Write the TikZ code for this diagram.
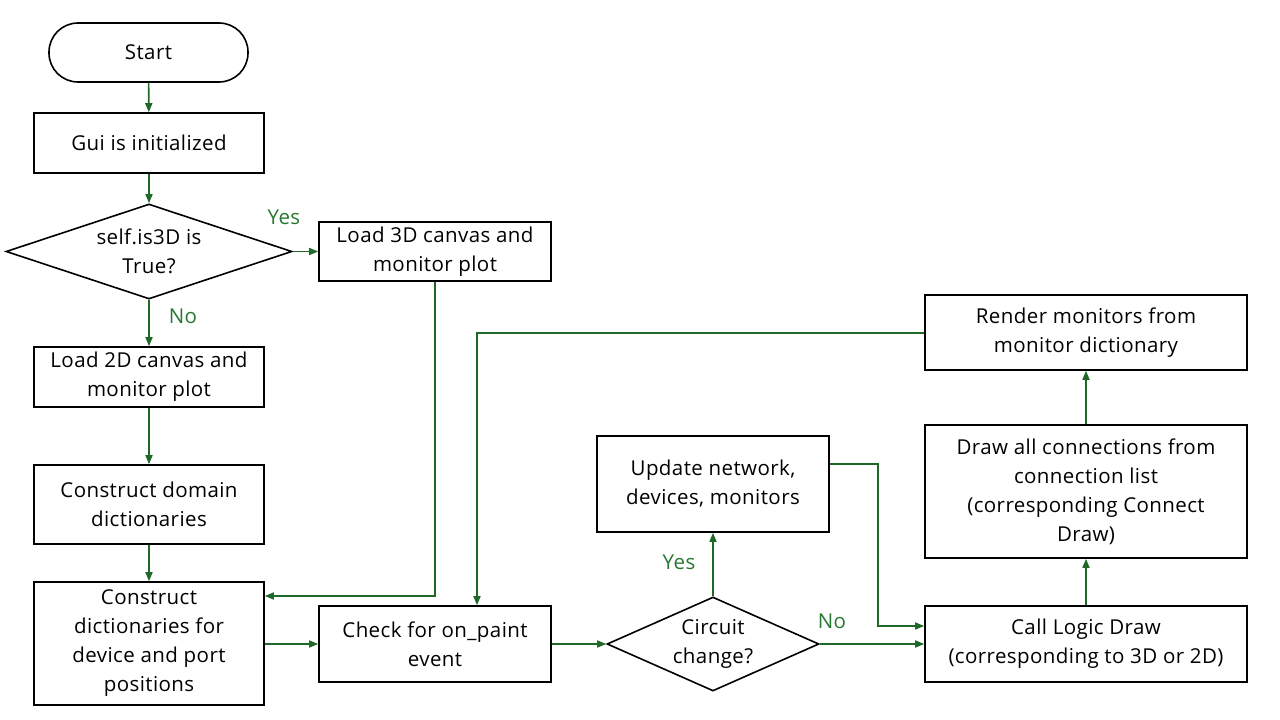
\documentclass[tikz,border=0pt]{standalone}
\usepackage{fontspec}
\setmainfont[LetterSpace=2.0]{Open Sans}
\usetikzlibrary{shapes.geometric,arrows.meta}
\definecolor{arrgreen}{RGB}{30,105,40}
\definecolor{lblgreen}{RGB}{40,120,50}
\tikzset{
  txt/.style={font=\fontsize{20.5}{29}\selectfont,align=center},
  box/.style={draw=black,line width=1.6pt,rectangle,inner sep=1pt,txt},
  dec/.style={draw=black,line width=1.6pt,diamond,inner sep=0pt},
  conn/.style={draw=arrgreen,line width=1.6pt,-{Triangle[length=9pt,width=7pt]}},
  lbl/.style={text=lblgreen,font=\fontsize{20.5}{24}\selectfont,inner sep=0pt},
}
\begin{document}
\begin{tikzpicture}[x=1pt,y=-1pt]
\useasboundingbox (0,0) rectangle (1280,720);
\node[box,rounded corners=29pt,minimum width=199pt,minimum height=59pt] (start) at (148.5,52.5) {Start};
\node[box,minimum width=230pt,minimum height=60pt] (gui) at (149,143) {Gui is initialized};
\node[dec,minimum width=286pt,minimum height=95pt] (is3d) at (149,251.5) {};
\node[txt] (is3dt) at (is3d) {self.is3D is\\True?};
\node[box,minimum width=232pt,minimum height=59pt] (load3d) at (435,251.5) {Load 3D canvas and\\monitor plot};
\node[box,minimum width=230pt,minimum height=60pt] (load2d) at (149,377) {Load 2D canvas and\\monitor plot};
\node[box,minimum width=230pt,minimum height=79pt] (cdom) at (149,504.5) {Construct domain\\dictionaries};
\node[box,minimum width=230pt,minimum height=123pt] (cdev) at (149,643.5) {Construct\\dictionaries for\\device and port\\positions};
\node[box,minimum width=232pt,minimum height=76pt] (check) at (435,644) {Check for on\_paint\\event};
\node[dec,minimum width=212pt,minimum height=94pt] (circ) at (713,644) {};
\node[txt] (circt) at (circ) {Circuit\\change?};
\node[box,minimum width=232pt,minimum height=96pt] (upd) at (713,484) {Update network,\\devices, monitors};
\node[box,minimum width=322pt,minimum height=76pt] (logic) at (1086,644) {Call Logic Draw\\(corresponding to 3D or 2D)};
\node[box,minimum width=322pt,minimum height=133pt] (drawall) at (1086,491.5) {Draw all connections from\\connection list\\(corresponding Connect\\Draw)};
\node[box,minimum width=322pt,minimum height=75pt] (render) at (1086,332.5) {Render monitors from\\monitor dictionary};
\node[lbl] (yes1) at (284,217) {Yes};
\node[lbl] (no1) at (183,316) {No};
\node[lbl] (yes2) at (679,562) {Yes};
\node[lbl] (no2) at (832,621) {No};
\coordinate (c3a) at (435,596);
\coordinate (rr) at (477,333);
\coordinate (ua) at (878,464);
\coordinate (ub) at (878,626);
\draw[conn] (start) -- (gui);
\draw[conn] (gui) -- (is3d);
\draw[conn] (is3d.east) -- (load3d.west);
\draw[conn] (is3d.south) -- (load2d.north);
\draw[conn] (load2d) -- (cdom);
\draw[conn] (cdom) -- (cdev);
\draw[conn] (load3d.south) -- (c3a) -- (c3a -| cdev.east);
\draw[conn] (render.west |- rr) -- (rr) -- (rr |- check.north);
\draw[conn] (cdev.east |- check) -- (check.west);
\draw[conn] (check.east) -- (circ.west);
\draw[conn] (circ.north) -- (upd.south);
\draw[conn] (upd.east |- ua) -- (ua) -- (ub) -- (ub -| logic.west);
\draw[conn] (circ.east) -- (logic.west);
\draw[conn] (logic.north) -- (drawall.south);
\draw[conn] (drawall.north) -- (render.south);
\end{tikzpicture}
\end{document}
